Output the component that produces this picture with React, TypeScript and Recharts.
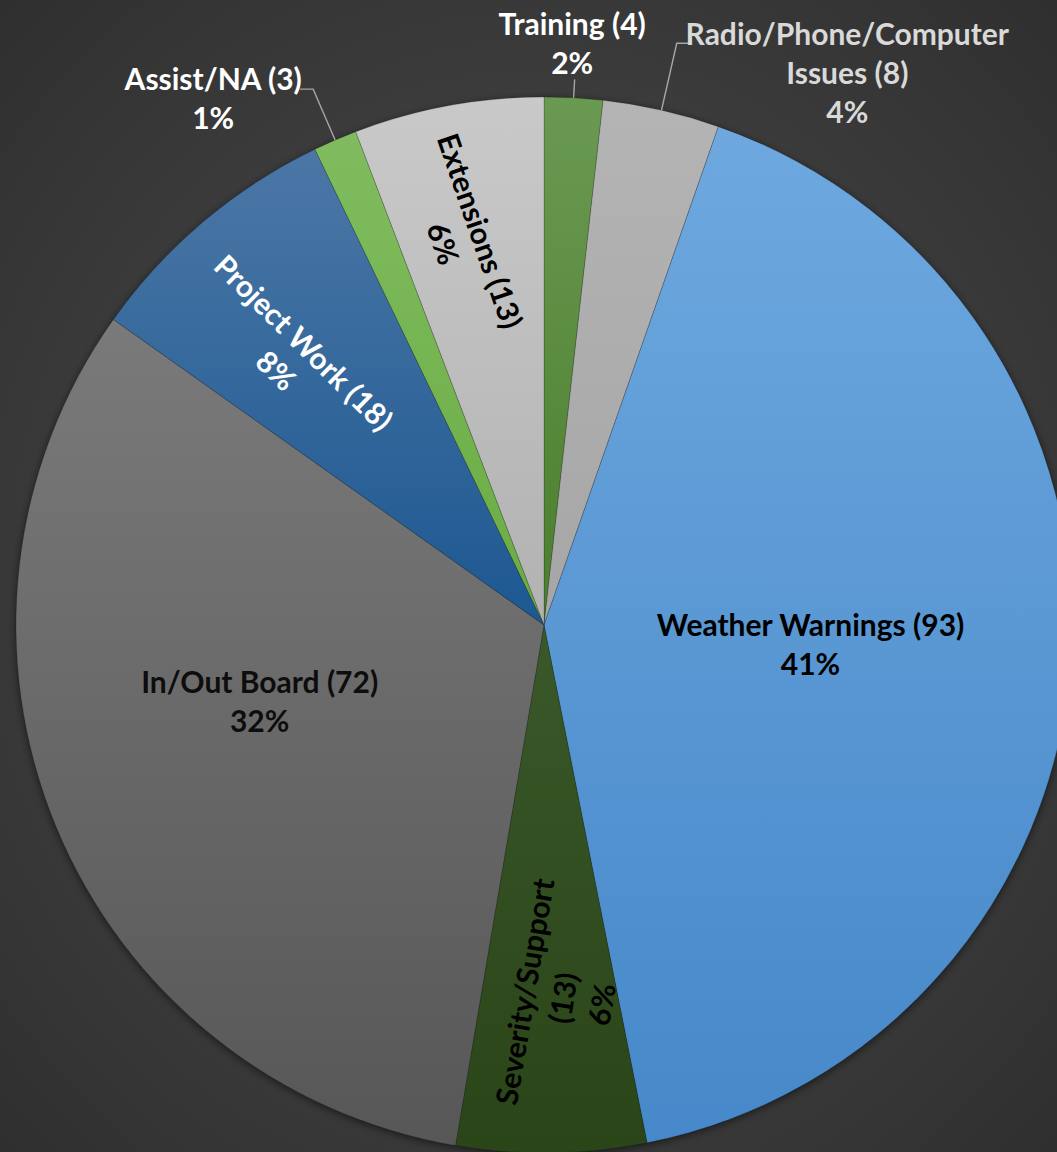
import React from 'react';
import { PieChart, Pie, Cell } from 'recharts';

// ---- data, clockwise from 12 o'clock ----
const categories = [
  'Training',
  'Radio/Phone/Computer Issues',
  'Weather Warnings',
  'Severity/Support',
  'In/Out Board',
  'Project Work',
  'Assist/NA',
  'Extensions',
];
const counts = [4, 8, 93, 13, 72, 18, 3, 13];
const percentLabels = ['2%', '4%', '41%', '6%', '32%', '8%', '1%', '6%'];

const data = categories.map((name, i) => ({ name, value: counts[i], pct: percentLabels[i] }));

// ---- styling ----
const sliceTop = ['#6a9a52', '#b4b4b4', '#6ea8df', '#3a5829', '#7a7a7a', '#4b77a6', '#80bc5f', '#c9c9c9'];
const sliceBottom = ['#4b7e2d', '#a6a6a6', '#4688c9', '#2a4518', '#575757', '#1d5891', '#6aac43', '#b2b2b2'];
const labelColors = ['#ffffff', '#d9d9d9', '#000000', '#000000', '#0d0d0d', '#ffffff', '#ffffff', '#000000'];

// label placement: r = fraction of outer radius, dTheta = clockwise angle offset from slice middle (deg),
// rot = text rotation (deg), split = number of words on first line (0 = whole name + count on one line),
// leader: elbow radius fraction and horizontal run (px) for outside labels
type Layout = { r: number; dTheta: number; rot: number; split: number; leader?: { er: number; run: number } };
const layout: Layout[] = [
  { r: 1.105, dTheta: -0.45, rot: 0, split: 0, leader: { er: 1.035, run: 0 } },
  { r: 1.194, dTheta: 15.9, rot: 0, split: 1, leader: { er: 1.13, run: 12 } },
  { r: 0.506, dTheta: 0, rot: 0, split: 0 },
  { r: 0.707, dTheta: -2.0, rot: -80.5, split: 1 },
  { r: 0.557, dTheta: 7.7, rot: 0, split: 0 },
  { r: 0.7, dTheta: -3.1, rot: 44.5, split: 0 },
  { r: 1.179, dTheta: -8.8, rot: 0, split: 0, leader: { er: 1.105, run: -13 } },
  { r: 0.751, dTheta: -1.4, rot: 71, split: 0 },
];

const FONT = 'Lato, "Open Sans", sans-serif';
const FONT_SIZE = 30;
const LINE_GAP = 39;
const RAD = Math.PI / 180;

function polar(cx: number, cy: number, r: number, thetaCw: number) {
  return { x: cx + r * Math.sin(thetaCw * RAD), y: cy - r * Math.cos(thetaCw * RAD) };
}

function renderLabel(props: any) {
  const { cx, cy, midAngle, outerRadius, index } = props;
  const d = data[index];
  const lay = layout[index];
  const midCw = 90 - midAngle;
  const words = d.name.split(' ');
  const lines: string[] = [];
  if (lay.split > 0) {
    lines.push(words.slice(0, lay.split).join(' '));
    lines.push(`${words.slice(lay.split).join(' ')} (${d.value})`.trim());
  } else {
    lines.push(`${d.name} (${d.value})`);
  }
  lines.push(d.pct);
  const p = polar(cx, cy, outerRadius * lay.r, midCw + lay.dTheta);
  const n = lines.length;
  let leader: React.ReactNode = null;
  if (lay.leader) {
    const a = polar(cx, cy, outerRadius, midCw);
    const e = polar(cx, cy, outerRadius * lay.leader.er, midCw);
    const pts = `${a.x},${a.y} ${e.x},${e.y} ${e.x + lay.leader.run},${e.y}`;
    leader = <polyline points={pts} fill="none" stroke="#a6a6a6" strokeWidth={1.4} />;
  }
  return (
    <g key={`lbl-${index}`}>
      {leader}
      <g transform={`translate(${p.x},${p.y}) rotate(${lay.rot})`}>
        <text
          textAnchor="middle"
          fontFamily={FONT}
          fontWeight={700}
          fontSize={FONT_SIZE}
          fill={labelColors[index]}
        >
          {lines.map((ln, i) => (
            <tspan key={i} x={0} y={(i - (n - 1) / 2) * LINE_GAP} dominantBaseline="central">
              {ln}
            </tspan>
          ))}
        </text>
      </g>
    </g>
  );
}

export default function App() {
  return (
    <div
      style={{
        position: 'absolute',
        left: 0,
        top: 0,
        width: 1057,
        height: 1152,
        overflow: 'hidden',
        background: 'radial-gradient(ellipse at 50% 50%, #4a4a4a 0%, #3d3d3d 55%, #2f2f2f 100%)',
      }}
    >
      <PieChart width={1057} height={1152} margin={{ top: 0, right: 0, bottom: 0, left: 0 }}>
        <defs>
          {sliceTop.map((c, i) => (
            <linearGradient key={i} id={`slice${i}`} x1="0" y1="0" x2="0" y2="1">
              <stop offset="0%" stopColor={c} />
              <stop offset="100%" stopColor={sliceBottom[i]} />
            </linearGradient>
          ))}
          <filter id="pieShadow" x="-10%" y="-10%" width="120%" height="120%">
            <feDropShadow dx="0" dy="2" stdDeviation="4" floodColor="#000" floodOpacity="0.55" />
          </filter>
        </defs>
        <Pie
          data={[{ name: 'shadow', value: 1 }]}
          dataKey="value"
          cx={544}
          cy={625}
          outerRadius={528}
          startAngle={90}
          endAngle={-270}
          stroke="none"
          isAnimationActive={false}
          label={false}
          labelLine={false}
        >
          <Cell fill="#2a2a2a" filter="url(#pieShadow)" />
        </Pie>
        <Pie
          data={data}
          dataKey="value"
          nameKey="name"
          cx={544}
          cy={625}
          outerRadius={528}
          startAngle={90}
          endAngle={-270}
          isAnimationActive={false}
          labelLine={false}
          label={renderLabel}
          stroke="rgba(0,0,0,0.18)"
          strokeWidth={1}
        >
          {data.map((_, i) => (
            <Cell key={i} fill={`url(#slice${i})`} />
          ))}
        </Pie>
      </PieChart>
    </div>
  );
}
